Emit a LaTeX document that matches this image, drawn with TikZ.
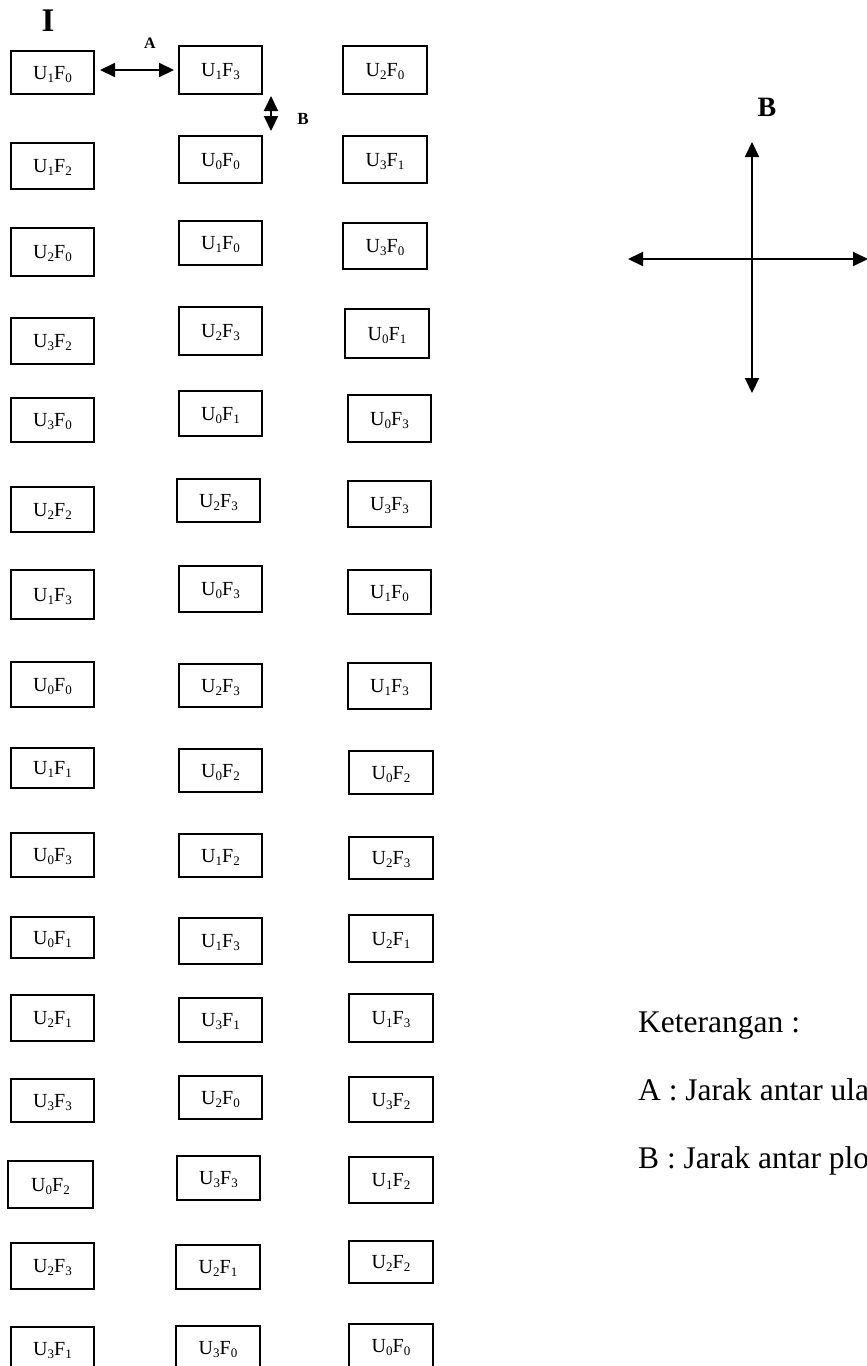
\documentclass[tikz,border=0pt]{standalone}
\usepackage{fontspec}
\setmainfont{Liberation Serif}
\usetikzlibrary{arrows.meta}
\newcommand\sbs[1]{\raisebox{-3pt}{\fontsize{13}{13}\selectfont #1}}
\newcommand\uf[2]{U\sbs{#1}F\sbs{#2}}
\newcommand\plotbox[6]{\node[pbox,minimum width={#4-#2},minimum height={#5-#3}] (#1) at ({(#2+#4)/2},{(#3+#5)/2}) {#6};}
\begin{document}
\begin{tikzpicture}[x=1pt,y=-1pt,
  pbox/.style={draw,line width=2pt,inner sep=0pt,text height=13pt,text depth=0pt,font=\fontsize{20}{20}\selectfont},
  dbl/.style={line width=2pt,{Triangle[length=15pt,width=14pt]}-{Triangle[length=15pt,width=14pt]}},
  lbl/.style={font=\bfseries\fontsize{#1}{#1}\selectfont,inner sep=0pt},
  legend/.style={anchor=base west,inner sep=0pt,font=\fontsize{31.5}{31.5}\selectfont}]
\useasboundingbox (0,0) rectangle (867,1366);
\clip (0,0) rectangle (867,1366);
% row 1
\plotbox{r1c1}{11}{51}{94}{94}{\uf10}
\plotbox{r1c2}{179}{46}{262}{94}{\uf13}
\plotbox{r1c3}{343}{46}{427}{94}{\uf20}
% row 2
\plotbox{r2c1}{11}{143}{94}{189}{\uf12}
\plotbox{r2c2}{179}{136}{262}{183}{\uf00}
\plotbox{r2c3}{343}{136}{427}{183}{\uf31}
% row 3
\plotbox{r3c1}{11}{228}{94}{276}{\uf20}
\plotbox{r3c2}{179}{221}{262}{265}{\uf10}
\plotbox{r3c3}{343}{223}{427}{269}{\uf30}
% row 4
\plotbox{r4c1}{11}{318}{94}{364}{\uf32}
\plotbox{r4c2}{179}{307}{262}{355}{\uf23}
\plotbox{r4c3}{345}{309}{429}{358}{\uf01}
% row 5
\plotbox{r5c1}{11}{398}{94}{442}{\uf30}
\plotbox{r5c2}{179}{391}{262}{436}{\uf01}
\plotbox{r5c3}{348}{395}{431}{442}{\uf03}
% row 6
\plotbox{r6c1}{11}{487}{94}{532}{\uf22}
\plotbox{r6c2}{177}{479}{260}{522}{\uf23}
\plotbox{r6c3}{348}{481}{431}{527}{\uf33}
% row 7
\plotbox{r7c1}{11}{570}{94}{619}{\uf13}
\plotbox{r7c2}{179}{566}{262}{612}{\uf03}
\plotbox{r7c3}{348}{570}{431}{614}{\uf10}
% row 8
\plotbox{r8c1}{11}{662}{94}{707}{\uf00}
\plotbox{r8c2}{179}{664}{262}{707}{\uf23}
\plotbox{r8c3}{348}{663}{431}{709}{\uf13}
% row 9
\plotbox{r9c1}{11}{748}{94}{788}{\uf11}
\plotbox{r9c2}{179}{749}{262}{792}{\uf02}
\plotbox{r9c3}{349}{751}{433}{794}{\uf02}
% row 10
\plotbox{r10c1}{11}{833}{94}{877}{\uf03}
\plotbox{r10c2}{179}{834}{262}{877}{\uf12}
\plotbox{r10c3}{349}{837}{433}{879}{\uf23}
% row 11
\plotbox{r11c1}{11}{917}{94}{958}{\uf01}
\plotbox{r11c2}{179}{918}{262}{964}{\uf13}
\plotbox{r11c3}{349}{915}{433}{962}{\uf21}
% row 12
\plotbox{r12c1}{11}{995}{94}{1041}{\uf21}
\plotbox{r12c2}{179}{998}{262}{1042}{\uf31}
\plotbox{r12c3}{349}{994}{433}{1042}{\uf13}
% row 13
\plotbox{r13c1}{11}{1079}{94}{1122}{\uf33}
\plotbox{r13c2}{179}{1076}{262}{1119}{\uf20}
\plotbox{r13c3}{349}{1077}{433}{1122}{\uf32}
% row 14
\plotbox{r14c1}{8}{1161}{93}{1208}{\uf02}
\plotbox{r14c2}{177}{1156}{260}{1200}{\uf33}
\plotbox{r14c3}{349}{1157}{433}{1203}{\uf12}
% row 15
\plotbox{r15c1}{11}{1243}{94}{1289}{\uf23}
\plotbox{r15c2}{176}{1245}{260}{1289}{\uf21}
\plotbox{r15c3}{349}{1241}{433}{1283}{\uf22}
% row 16
\plotbox{r16c1}{11}{1327}{94}{1371}{\uf31}
\plotbox{r16c2}{176}{1326}{260}{1370}{\uf30}
\plotbox{r16c3}{349}{1324}{433}{1368}{\uf00}
% labels
\node[lbl=33] (title) at (48,21) {I};
\node[lbl=16] (labA) at (150,43) {A};
\node[lbl=17] (labB) at (303,119) {B};
% A and B arrows
\draw[dbl,shorten <=5pt,shorten >=4pt] (r1c1.east |- r1c2.west) -- (r1c2.west);
\coordinate (bt) at (271,96);
\coordinate (bb) at (271,131);
\draw[dbl] (bt) -- (bb);
% cross
\node[lbl=28] (bigB) at (767,107) {B};
\coordinate (vt) at (752,142);
\coordinate (vb) at (752,393);
\coordinate (hl) at (628,259);
\coordinate (hr) at (868,259);
\draw[dbl] (vt) -- (vb);
\draw[dbl] (hl) -- (hr);
% legend
\node[legend] (ket) at (638,1032) {Keterangan :};
\node[legend] (legA) at (638,1100) {A : Jarak antar ulangan};
\node[legend] (legB) at (638,1168) {B : Jarak antar plot};
\end{tikzpicture}
\end{document}
